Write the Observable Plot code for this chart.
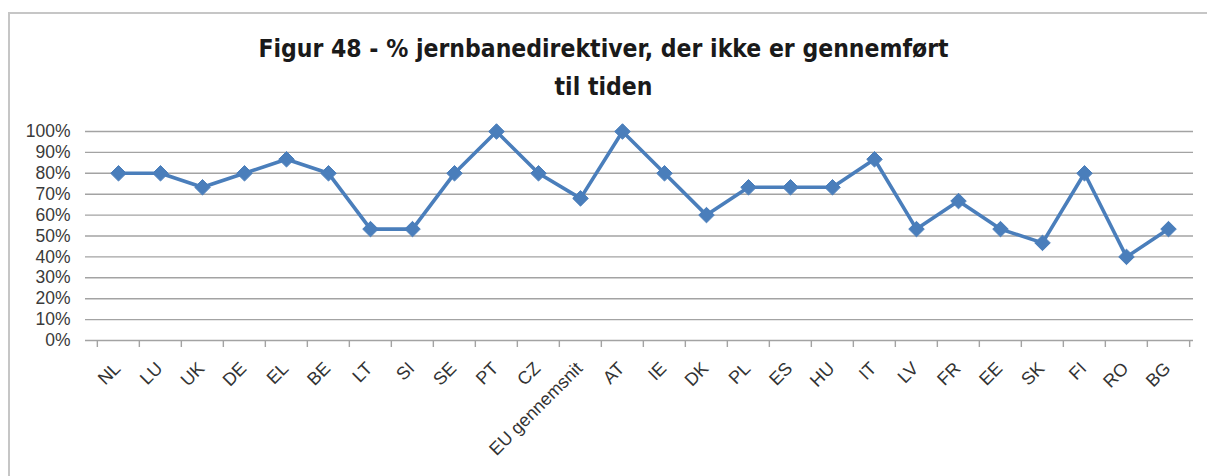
<!DOCTYPE html>
<html><head><meta charset="utf-8">
<script src="https://cdn.jsdelivr.net/npm/d3@7"></script>
<script src="https://cdn.jsdelivr.net/npm/@observablehq/plot@0.6"></script>
<style>
body{margin:0;background:#fff;}
#wrap{position:relative;width:1207px;height:476px;overflow:hidden;font-family:"Liberation Sans",Arial,sans-serif;}
#frame{position:absolute;left:8px;top:12px;width:1210px;height:480px;border:2px solid #c6c6c6;box-sizing:border-box;}
#title{position:absolute;left:0;width:1207px;top:30px;text-align:center;font-family:"DejaVu Sans Condensed","DejaVu Sans",sans-serif;font-weight:bold;font-size:24.5px;line-height:38px;color:#1a1a1a;}
#chart{position:absolute;left:0;top:110px;}
</style></head>
<body>
<div id="wrap">
  <div id="frame"></div>
  <div id="title">Figur 48 - % jernbanedirektiver, der ikke er gennemført<br>til tiden</div>
  <div id="chart"></div>
</div>
<script>
const categories = ["NL","LU","UK","DE","EL","BE","LT","SI","SE","PT","CZ","EU gennemsnit","AT","IE","DK","PL","ES","HU","IT","LV","FR","EE","SK","FI","RO","BG"];
const values = [80,80,73.3,80,86.7,80,53.3,53.3,80,100,80,68,100,80,60,73.3,73.3,73.3,86.7,53.3,66.7,53.3,46.7,80,40,53.3];
const yTicks = [0,10,20,30,40,50,60,70,80,90,100];

const data = categories.map((c, i) => ({cat: c, val: values[i]}));
const W = 1207, H = 366, mL = 93, mR = 14, mT = 21, mB = 136;
const bw = (W - mL - mR) / categories.length;
const blue = "#4A7EBB";
const grid = "#a3a3a3";

const chart = Plot.plot({
  width: W, height: H,
  marginTop: mT, marginBottom: mB, marginLeft: mL, marginRight: mR,
  style: {fontFamily: '"Liberation Sans", Arial, sans-serif', background: "transparent", overflow: "visible"},
  x: {type: "band", domain: categories, padding: 0, label: null},
  y: {domain: [0, 100], label: null},
  marks: [
    Plot.ruleY(yTicks, {y: d => d, stroke: grid, strokeWidth: 1.4, insetLeft: -8}),
    Plot.axisY(yTicks, {tickSize: 0, tickPadding: 23, tickFormat: d => d + "%", fontSize: 17.5, fill: "#3a3a3a", label: null}),
    Plot.axisX({tickSize: 7, tickFormat: () => "", dx: -bw / 2, stroke: grid, strokeWidth: 1.4, label: null}),
    Plot.axisX(["BG"], {tickSize: 7, tickFormat: () => "", dx: bw / 2, stroke: grid, strokeWidth: 1.4, label: null}),
    Plot.axisX({tickSize: 0, tickRotate: -45, tickPadding: 25, dx: -1, fontSize: 18, fill: "#333", label: null}),
    Plot.line(data, {x: "cat", y: "val", stroke: blue, strokeWidth: 3.6}),
    Plot.dot(data, {x: "cat", y: "val", symbol: "diamond2", r: 7, fill: blue, stroke: blue, strokeWidth: 1})
  ]
});
document.getElementById("chart").appendChild(chart);
</script>
</body></html>
